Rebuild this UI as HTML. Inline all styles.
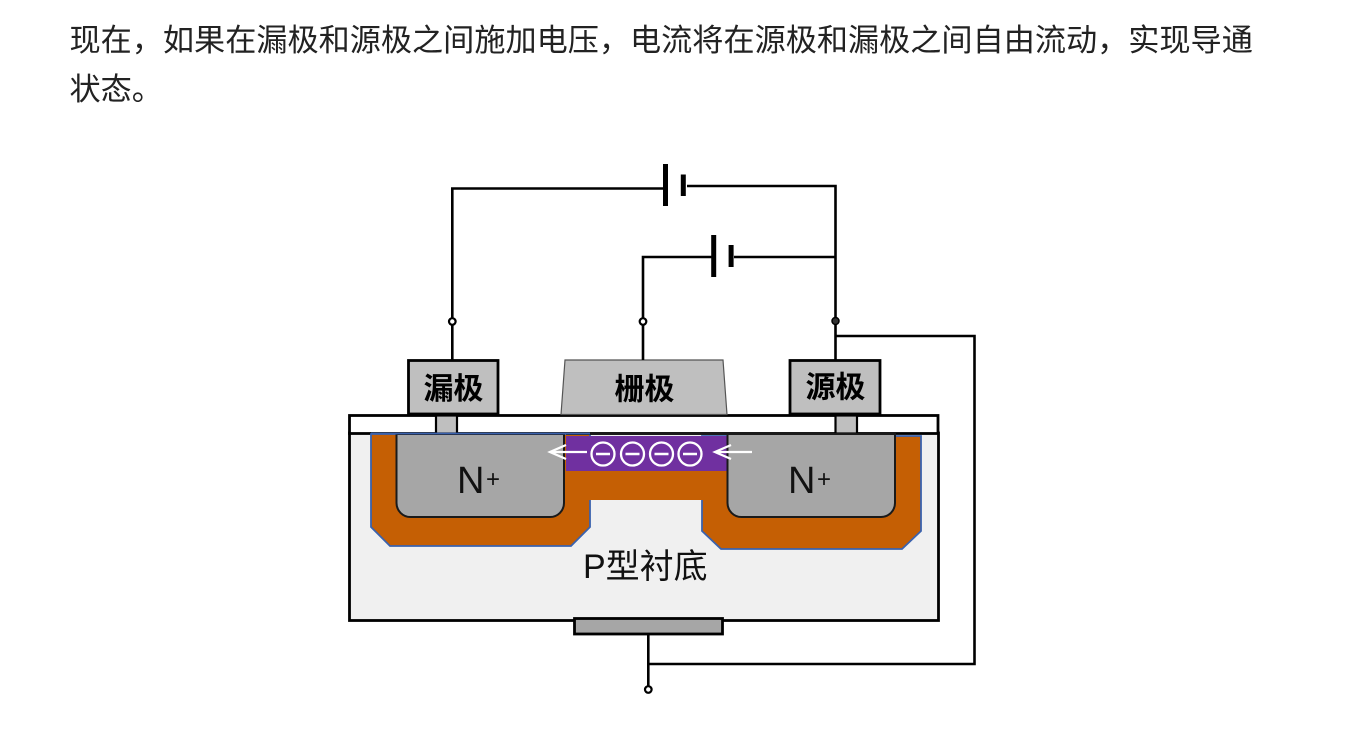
<!DOCTYPE html>
<html lang="zh">
<head>
<meta charset="utf-8">
<style>
html,body{margin:0;padding:0;background:#fff;width:1348px;height:737px;overflow:hidden}
.p{position:absolute;left:69.500px;top:16px;width:1200px;margin:0;font:31.150px/49px "Liberation Sans","Noto Sans CJK SC",sans-serif;color:#222}
svg{position:absolute;left:0;top:0}
text{font-family:"Liberation Sans","Noto Sans CJK SC",sans-serif}
</style>
</head>
<body>
<p class="p">现在，如果在漏极和源极之间施加电压，电流将在源极和漏极之间自由流动，实现导通<br>状态。</p>
<svg width="1348" height="737" viewBox="0 0 1348 737">
  <!-- substrate and oxide -->
  <rect x="349.500" y="433" width="589" height="187.500" fill="#f0f0f0" stroke="#000" stroke-width="2.800"/>
  <rect x="349.500" y="415.500" width="588.500" height="18" fill="#fff" stroke="#000" stroke-width="2.800"/>
  <!-- contacts -->
  <rect x="436" y="415.500" width="21" height="18" fill="#bfbfbf" stroke="#000" stroke-width="2.200"/>
  <rect x="835.500" y="415.500" width="21.500" height="18" fill="#bfbfbf" stroke="#000" stroke-width="2.200"/>
  <!-- doped regions -->
  <polygon points="371,434 590,434 590,527 571,546 390,546 371,527" fill="#c55f04" stroke="#3a62ae" stroke-width="1.800"/>
  <polygon points="702,436 921,436 921,531 902,549 721,549 702,531" fill="#c55f04" stroke="#3a62ae" stroke-width="1.800"/>
  <rect x="565" y="436" width="163" height="64" fill="#c55f04"/>
  <rect x="566" y="436" width="161" height="35" fill="#7030a0"/>
  <!-- N+ wells -->
  <path d="M396.500 434V503a14 14 0 0 0 14 14H550a14 14 0 0 0 14-14V434Z" fill="#a6a6a6" stroke="#1a1a1a" stroke-width="2"/>
  <path d="M727.500 434V503a14 14 0 0 0 14 14H881a14 14 0 0 0 14-14V434Z" fill="#a6a6a6" stroke="#1a1a1a" stroke-width="2"/>
  <line x1="566" y1="434" x2="895" y2="434" stroke="#1a1a1a" stroke-width="2"/>
  <line x1="371" y1="433.500" x2="590" y2="433.500" stroke="#3a62ae" stroke-width="1.800"/>
  <!-- terminals -->
  <rect x="408.500" y="360.500" width="89.500" height="53.500" fill="#bfbfbf" stroke="#000" stroke-width="2.800"/>
  <rect x="790" y="360.500" width="90" height="53.500" fill="#bfbfbf" stroke="#000" stroke-width="2.800"/>
  <polygon points="565,360 723,360 727,414.500 561,414.500" fill="#bfbfbf" stroke="#555" stroke-width="1.200"/>
  <rect x="574.500" y="618.500" width="148" height="15.500" fill="#a6a6a6" stroke="#000" stroke-width="2.800"/>
  <!-- wires -->
  <g fill="none" stroke="#000" stroke-width="2.600">
    <path d="M452.300 360V188.500H664"/>
    <path d="M687 186H835.500V360"/>
    <path d="M643 360V257H713"/>
    <path d="M734 257H835.500"/>
    <path d="M835.500 336H974.500V664H648.300"/>
    <path d="M648.300 634V686"/>
  </g>
  <g fill="#000">
    <rect x="663" y="164" width="5" height="42"/>
    <rect x="680.800" y="174.500" width="5" height="21.500"/>
    <rect x="711.200" y="235" width="5" height="42"/>
    <rect x="728.600" y="245" width="5" height="22"/>
  </g>
  <g fill="#fff" stroke="#000" stroke-width="2.200">
    <circle cx="452.300" cy="321.500" r="3.300"/>
    <circle cx="643" cy="321.500" r="3.300"/>
    <circle cx="648.300" cy="689.500" r="3.300"/>
  </g>
  <circle cx="835.500" cy="321" r="3.500" fill="#333" stroke="#000" stroke-width="1.500"/>
  <!-- arrows and electrons -->
  <g fill="none" stroke="#fff" stroke-width="2.300">
    <path d="M587 452H550M566 445L550 452L566 459"/>
    <path d="M752 452H715M731 445L715 452L731 459"/>
    <circle cx="603" cy="454" r="11.500"/>
    <circle cx="632.500" cy="454" r="11.500"/>
    <circle cx="661.500" cy="454" r="11.500"/>
    <circle cx="690" cy="454" r="11.500"/>
    <path d="M596 454H610M625.500 454H639.500M654.500 454H668.500M683 454H697" stroke-width="2.600"/>
  </g>
  <!-- labels -->
  <g fill="#000" font-weight="700" font-size="30" text-anchor="middle">
    <text x="453.500" y="399">漏极</text>
    <text x="644.500" y="399.500">栅极</text>
    <text x="835.500" y="397.500">源极</text>
  </g>
  <g fill="#111">
    <text x="457" y="493" font-size="38">N</text>
    <text x="486" y="487" font-size="24">+</text>
    <text x="788" y="493" font-size="38">N</text>
    <text x="817" y="487" font-size="24">+</text>
    <text x="583" y="578" font-size="34">P型衬底</text>
  </g>
</svg>
</body>
</html>
